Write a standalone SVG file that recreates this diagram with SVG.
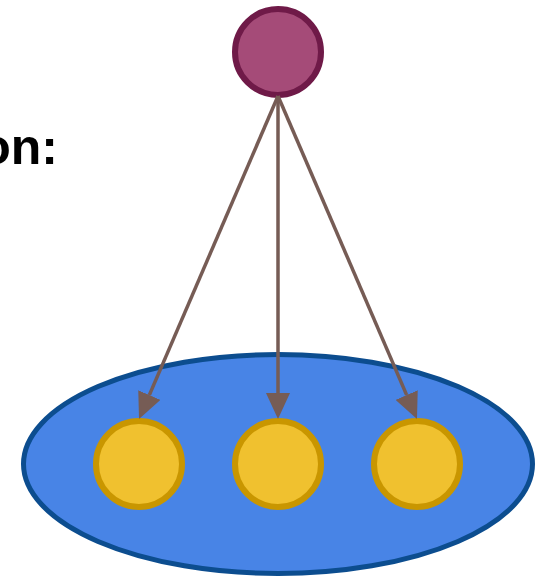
<svg xmlns="http://www.w3.org/2000/svg" width="541" height="580" viewBox="0 0 541 580">
  <style>
    .parent { fill: #a54b78; stroke: #6f1a48; stroke-width: 6; }
    .child { fill: #f0c12f; stroke: #c99600; stroke-width: 6; }
    .group { fill: #4884e6; stroke: #0c4d8f; stroke-width: 5; }
    .edge { stroke: #765c55; stroke-width: 3.5; fill: none; }
    .label { font-family: "Liberation Sans", Arial, sans-serif; font-weight: bold; fill: #000; }
  </style>
  <defs>
    <marker id="arrow" viewBox="0 0 26 24" refX="0" refY="12" markerWidth="26" markerHeight="24" markerUnits="userSpaceOnUse" orient="auto">
      <path d="M0,0 L26,12 L0,24 z" fill="#765c55"/>
    </marker>
  </defs>
  <rect width="541" height="580" fill="#ffffff"/>
  <text class="label" x="58" y="164" font-size="50" text-anchor="end">on:</text>
  <g id="group">
    <ellipse class="group" cx="278" cy="464" rx="254.5" ry="109.5"/>
  </g>
  <g id="parent">
    <circle class="parent" cx="278" cy="52" r="43"/>
  </g>
  <g id="child1">
    <circle class="child" cx="139" cy="464" r="43"/>
  </g>
  <g id="child2">
    <circle class="child" cx="278" cy="464" r="43"/>
  </g>
  <g id="child3">
    <circle class="child" cx="417" cy="464" r="43"/>
  </g>
  <g id="connectors">
    <line class="edge" x1="278" y1="96" x2="149.3" y2="395.1" marker-end="url(#arrow)"/>
    <line class="edge" x1="278" y1="96" x2="278" y2="393" marker-end="url(#arrow)"/>
    <line class="edge" x1="278" y1="96" x2="406.7" y2="395.1" marker-end="url(#arrow)"/>
  </g>
</svg>
